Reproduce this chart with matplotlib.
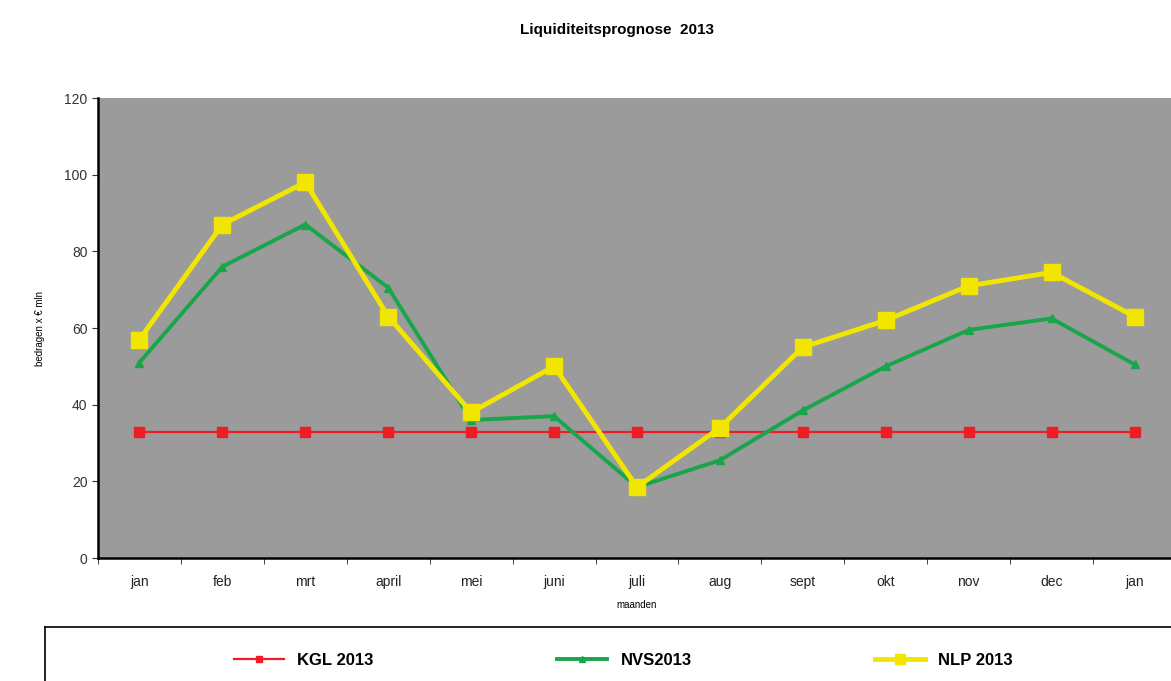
import matplotlib
matplotlib.use("Agg")
import matplotlib.pyplot as plt
import numpy as np

maanden = ["jan", "feb", "mrt", "april", "mei", "juni", "juli",
           "aug", "sept", "okt", "nov", "dec", "jan"]
kgl_2013 = [33, 33, 33, 33, 33, 33, 33, 33, 33, 33, 33, 33, 33]
nvs_2013 = [51, 76, 87, 70.5, 36, 37, 18.5, 25.5, 38.5, 50, 59.5, 62.5, 50.5]
nlp_2013 = [57, 87, 98, 63, 38, 50, 18.5, 34, 55, 62, 71, 74.5, 63]

plt.rcParams['font.family'] = ['Liberation Sans', 'DejaVu Sans']

fig = plt.figure(figsize=(11.71, 6.81), dpi=100)
ax = fig.add_axes([98 / 1171, 1 - 558 / 681, 1078 / 1171, 460 / 681])
ax.set_facecolor("#9b9b9b")

x = np.arange(len(maanden))
ax.plot(x, kgl_2013, color="#ee1c25", linewidth=1.6, marker="s",
        markersize=7, label="KGL 2013", zorder=3)
ax.plot(x, nvs_2013, color="#19a64a", linewidth=2.8, marker="^",
        markersize=6, label="NVS2013", zorder=4)
ax.plot(x, nlp_2013, color="#f2e600", linewidth=3.5, marker="s",
        markersize=11, label="NLP 2013", zorder=5)

ax.set_xlim(-0.5, len(maanden) - 0.5)
ax.set_ylim(0, 120)
ax.set_yticks(range(0, 121, 20))
ax.set_xticks(x)
ax.set_xticklabels(maanden)
ax.set_xticks(np.arange(-0.5, len(maanden), 1), minor=True)
ax.tick_params(axis="x", which="major", length=0, pad=12, labelsize=10,
               colors="#222222")
ax.tick_params(axis="x", which="minor", length=4, color="#222222")
ax.tick_params(axis="y", length=4, labelsize=10, colors="#333333")
for side in ["top", "right"]:
    ax.spines[side].set_visible(False)
ax.spines["left"].set_linewidth(1.8)
ax.spines["bottom"].set_linewidth(1.8)

ax.set_xlabel("maanden", fontsize=7, labelpad=8)
ax.set_ylabel("bedragen x € mln", fontsize=7, labelpad=14)

fig.text(617 / 1171, 1 - 30 / 681, "Liquiditeitsprognose  2013", ha="center",
         va="center", fontsize=11, fontweight="bold")

# legend in its own framed box below the chart
lax = fig.add_axes([45 / 1171, -0.05, 1.0, (681 - 627) / 681 + 0.05])
lax.set_xticks([])
lax.set_yticks([])
for s in lax.spines.values():
    s.set_linewidth(1.2)
handles, labels = ax.get_legend_handles_labels()
lax.legend(handles, labels, loc="center", ncol=3, frameon=False,
           bbox_to_anchor=(0.494, 0.62), columnspacing=11, handlelength=3,
           prop={"size": 12, "weight": "bold"}, markerscale=0.7)

fig.savefig("out.png", dpi=100)
